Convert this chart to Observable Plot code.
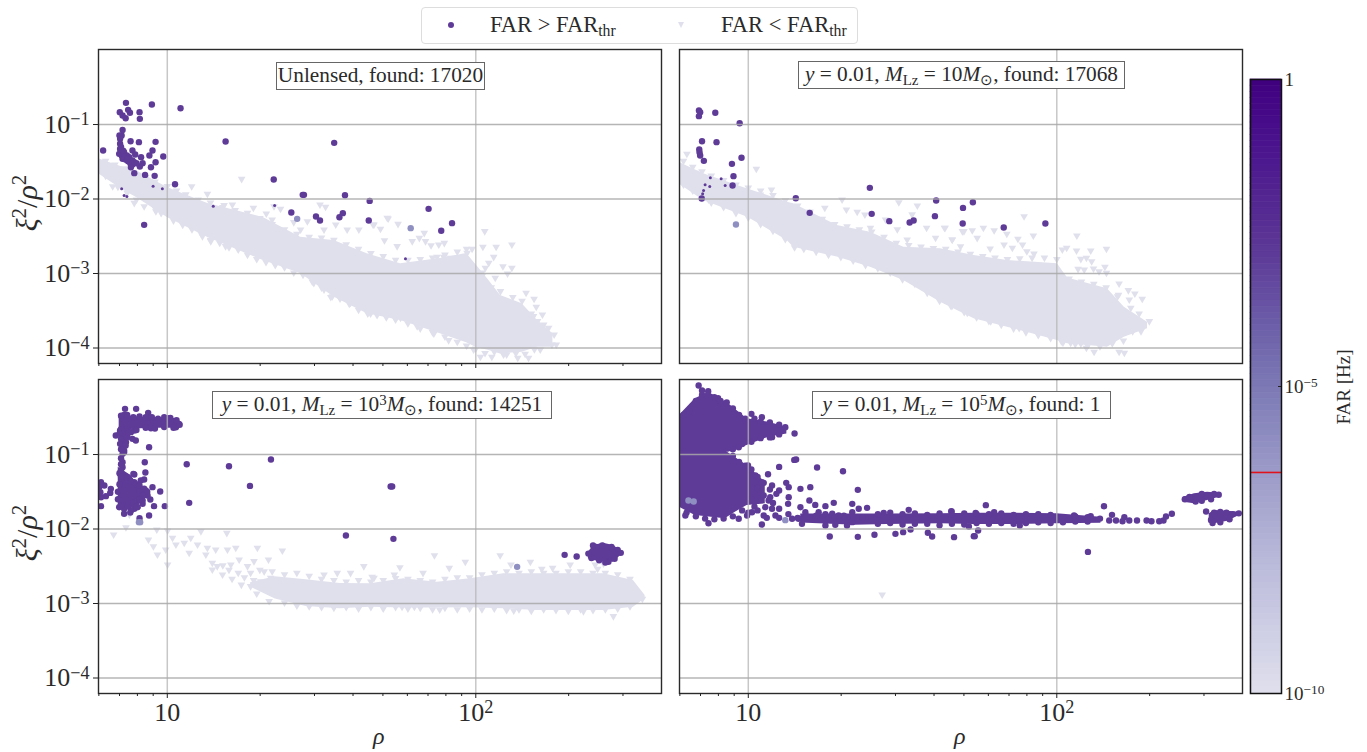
<!DOCTYPE html>
<html><head><meta charset="utf-8">
<script src="https://cdn.jsdelivr.net/npm/d3@7"></script>
<script src="https://cdn.jsdelivr.net/npm/@observablehq/plot@0.6"></script>
<style>
html,body{margin:0;padding:0;background:#fff}
#page{position:relative;width:1367px;height:752px;overflow:hidden;font-family:"Liberation Serif",serif;color:#2a2a2a}
#page svg{position:absolute;overflow:visible;background:transparent}
.note{position:absolute;height:26px;line-height:25px;background:#fff;border:1px solid #666;text-align:center;font-size:21.3px;white-space:nowrap;box-sizing:content-box}
.note sub,.leg sub{font-size:.7em;line-height:0;vertical-align:-.25em}
.note sup{font-size:.7em;line-height:0;vertical-align:.42em}
.t{position:absolute;white-space:nowrap}
.leg{position:absolute;font-size:22.5px;line-height:24px;white-space:nowrap}
</style></head><body><div id="page"></div>
<script>
// All data are [log10 rho, log10 (xi^2/rho^2)] read against the decade gridlines of the reference.
const rhoDomain=[10**0.777,10**2.602], xiDomain=[10**-4.208,10**0.007];
const xTicks=[10,100], xMinor=[6,7,8,9,20,30,40,50,60,70,80,90,200,300], yTicks=[1e-4,1e-3,1e-2,1e-1];
const farDomain=[1e-10,1], farTicks=[1e-10,1e-5,1], farThreshold=10**-6.4;
const farColors=["#dfdfed","#cfcfe5","#bcbcdc","#a9a8d0","#9291c3","#7b79b4","#6c5fa9","#5e3c99","#54278f","#491190","#3f007d"];
const purple="#5f3b98", pale="#e0e0ed", mid="#8f8fc2";

// Unlensed
const c1x=[.777,.859,.90,1.0,1.131,1.311,1.432,1.54,1.648,1.756,1.885,1.97,2.0,2.04,2.08,2.15,2.2,2.25];
const c1hi=[-1.46,-1.577,-1.62,-1.846,-2.06,-2.248,-2.512,-2.557,-2.736,-2.87,-2.80,-2.73,-2.88,-3.08,-3.295,-3.407,-3.63,-3.81];
const c1lo=[-1.66,-1.886,-1.98,-2.248,-2.517,-2.826,-3.0,-3.317,-3.54,-3.63,-3.81,-3.93,-3.989,-4.03,-4.08,-4.056,-3.989,-3.989];
const d1=[[.866,-.709],[.95,-.732],[1.043,-.781],[.846,-.834],[.873,-.803],[.879,-.843],[.91,-.834],[.855,-.879],[.865,-.915],[.911,-.924],[.855,-1.072],[.852,-1.148],[.845,-1.148],[.881,-1.224],[.908,-1.237],[.962,-1.233],[1.189,-1.228],[1.541,-1.246],[.792,-1.349],[.887,-1.349],[.952,-1.349],[.942,-1.416],[.987,-1.43],[.915,-1.438],[.896,-1.403],[.962,-1.506],[.92,-1.519],[.911,-1.564],[.947,-1.573],[.893,-1.653],[.928,-1.676],[.959,-1.689],[1.345,-1.738],[1.025,-1.801],[1.439,-1.944],[1.443,-1.944],[1.576,-1.949],[1.656,-2.025],[.925,-2.347],[1.402,-2.181],[1.482,-2.235],[1.495,-2.289],[1.558,-2.244],[1.569,-2.19],[1.653,-2.289],[1.847,-2.132],[1.923,-2.324],[1.888,-2.427],[.847,-1.192],[.847,-1.259],[.847,-1.327],[.844,-1.394],[.852,-1.416],[.858,-1.438],[.866,-1.474],[.873,-1.492],[.88,-1.519],[.887,-1.537],[.882,-1.573],[.86,-1.371],[.887,-1.483],[.893,-1.506],[.869,-1.416],[.855,-1.461],[.877,-1.438],[.85,-1.3],[.857,-1.35],[.865,-1.43],[.9,-1.52],[.872,-1.46]];
const s1=[[1.149,-2.096],[1.348,-2.087],[1.772,-2.803],[.852,-1.863],[.86,-1.953],[.869,-1.966],[.984,-1.863],[.954,-1.828]];
const m1=[[1.421,-2.266],[1.789,-2.391]];
const t1=[[1.241,-1.743],[1.079,-1.841],[1.13,-1.944],[1.184,-2.096],[1.211,-2.087],[1.279,-2.132],[1.321,-2.208],[1.346,-2.11],[1.367,-2.145],[1.34,-2.289],[1.41,-2.324],[1.454,-2.311],[1.495,-2.087],[1.513,-2.118],[1.546,-2.356],[1.583,-2.423],[1.621,-2.423],[1.67,-2.356],[1.713,-2.266],[1.432,-2.423],[1.508,-2.423],[.823,-1.841],[.925,-2.11],[.893,-2.065],[1.114,-2.512],[1.141,-2.579],[1.189,-2.646],[.963,-2.177],[1.0,-2.199],[1.691,-2.414],[1.716,-2.275],[1.748,-2.347],[1.667,-2.356],[1.704,-2.566],[1.745,-2.646],[1.794,-2.579],[1.817,-2.535],[1.833,-2.468],[1.837,-2.579],[1.855,-2.633],[1.88,-2.624],[1.898,-2.602],[2.029,-2.445],[2.117,-2.624],[2.066,-2.655],[2.023,-2.655],[1.988,-2.682],[2.088,-2.915],[2.117,-2.937],[2.103,-3.013],[2.058,-2.79],[2.063,-3.071],[2.004,-3.094],[2.163,-3.273],[2.189,-3.353],[2.196,-3.461],[2.216,-3.564],[2.2,-3.653],[2.187,-3.586],[2.236,-3.743],[2.254,-3.832],[2.261,-3.966],[2.247,-3.966],[2.209,-4.033],[2.171,-4.145],[2.136,-4.145],[2.09,-4.1],[2.052,-4.132],[2.015,-4.132],[1.993,-4.033],[1.912,-3.908],[1.864,-3.819],[1.81,-3.72],[1.756,-3.608],[1.659,-3.55],[1.594,-3.407],[1.535,-3.318],[1.508,-3.228],[1.475,-3.139],[1.918,-2.803],[1.896,-2.789],[1.874,-2.789],[2.02,-3.049],[1.972,-2.736],[2.031,-2.937],[2.042,-2.87],[1.993,-2.96]];
const e1=[[.80,-1.70],[.84,-1.85],[.87,-1.93],[.90,-2.02],[.93,-2.0],[.96,-2.13],[.98,-2.2],[1.02,-2.30],[1.05,-2.36],[1.08,-2.42],[1.11,-2.48],[1.14,-2.56],[1.17,-2.60],[1.2,-2.66],[1.23,-2.69],[1.26,-2.76],[1.29,-2.82],[1.32,-2.86],[1.35,-2.9],[1.38,-2.93],[1.41,-3.0],[1.44,-3.03],[1.47,-3.12],[1.5,-3.2],[1.53,-3.33],[1.56,-3.35],[1.59,-3.42],[1.62,-3.5],[1.65,-3.55],[1.68,-3.57],[1.71,-3.6],[1.74,-3.63],[1.78,-3.68],[1.82,-3.75],[1.86,-3.8],[1.9,-3.86],[1.94,-3.93],[1.97,-3.98],[2.0,-4.02],[2.03,-4.08],[2.06,-4.06],[2.1,-4.1],[2.13,-4.08],[2.16,-4.09],[2.19,-4.03],[.80,-1.5],[.83,-1.55],[.86,-1.6],[.89,-1.66],[.93,-1.72],[.96,-1.78],[1.0,-1.84],[1.03,-1.9],[1.06,-1.95],[1.1,-2.02],[1.14,-2.06],[1.18,-2.12],[1.22,-2.16],[1.26,-2.2],[1.3,-2.27],[1.34,-2.35],[1.38,-2.42],[1.42,-2.48],[1.46,-2.52],[1.5,-2.53],[1.54,-2.56],[1.58,-2.62],[1.62,-2.68],[1.66,-2.74],[1.7,-2.78],[1.74,-2.83],[1.78,-2.83],[1.82,-2.82],[1.86,-2.8],[1.9,-2.76],[1.94,-2.72],[1.97,-2.68],[2.02,-3.0],[2.05,-3.2],[2.08,-3.25],[2.12,-3.33],[2.15,-3.38],[2.18,-3.55],[2.22,-3.7]];

// M_Lz = 10
const c2x=[.775,.855,.998,1.126,1.147,1.288,1.396,1.504,1.623,1.732,1.84,2.002,2.035,2.164,2.219,2.294];
const c2hi=[-1.506,-1.662,-1.864,-2.042,-2.065,-2.356,-2.445,-2.647,-2.669,-2.758,-2.825,-2.87,-3.06,-3.206,-3.452,-3.653];
const c2lo=[-1.796,-2.02,-2.244,-2.557,-2.647,-2.78,-2.915,-3.094,-3.385,-3.608,-3.72,-3.899,-3.944,-3.989,-3.854,-3.742];
const d2=[[.84,-.812],[.844,-.834],[.84,-.888],[.893,-.843],[.972,-.982],[.85,-1.224],[.897,-1.237],[.841,-1.336],[.842,-1.376],[.844,-1.416],[.856,-1.488],[.978,-1.447],[.947,-1.528],[.952,-1.693],[.949,-1.819],[.849,-1.993],[1.154,-1.989],[1.394,-1.85],[1.4,-2.199],[1.199,-2.186],[1.457,-2.297],[1.523,-2.315],[1.536,-2.289],[1.605,-2.23],[1.609,-2.02],[1.696,-2.119],[1.695,-2.329],[1.728,-2.043],[1.828,-2.383],[1.963,-2.329]];
const s2=[[.877,-1.716],[.86,-1.81],[.855,-1.886],[.875,-1.832],[.912,-1.729],[.852,-1.93],[.925,-1.819]];
const m2=[[.96,-2.342]];
const t2=[[.801,-1.407],[1.026,-1.608],[1.075,-1.886],[1.039,-1.953],[1.304,-2.02],[1.248,-2.132],[1.318,-2.154],[1.353,-2.185],[1.378,-2.221],[1.396,-2.4],[1.445,-2.288],[1.488,-2.056],[1.548,-2.1],[1.531,-2.22],[1.483,-2.42],[1.515,-2.557],[1.578,-2.4],[1.607,-2.534],[1.661,-2.557],[1.636,-2.4],[1.699,-2.445],[.828,-1.662],[.902,-2.02],[.871,-2.02],[1.894,-2.244],[1.638,-2.4],[1.694,-2.445],[1.726,-2.432],[1.762,-2.4],[1.797,-2.432],[1.838,-2.481],[1.924,-2.503],[1.661,-2.557],[1.742,-2.535],[1.874,-2.548],[1.688,-2.647],[1.784,-2.678],[1.829,-2.624],[1.856,-2.669],[1.889,-2.624],[1.903,-2.714],[1.926,-2.745],[2.065,-2.503],[2.018,-2.691],[2.032,-2.669],[2.064,-2.705],[2.11,-2.705],[2.161,-2.682],[2.078,-2.817],[2.096,-2.803],[2.113,-2.848],[2.156,-2.924],[2.119,-2.946],[2.089,-2.96],[2.069,-2.951],[2.137,-2.982],[2.161,-3.004],[2.037,-3.148],[2.202,-3.148],[2.232,-3.237],[2.253,-3.282],[2.277,-3.353],[2.235,-3.362],[2.197,-3.318],[2.267,-3.55],[2.24,-3.474],[2.3,-3.653],[2.273,-3.787],[2.246,-3.787],[2.216,-3.913],[2.202,-4.065],[2.219,-4.078],[2.121,-4.065],[2.096,-4.011],[2.078,-3.953],[2.045,-3.944],[2.015,-3.921],[1.959,-3.787],[1.878,-3.743],[1.786,-3.653],[1.71,-3.541],[1.656,-3.443]];
const e2=[[.79,-1.82],[.82,-1.9],[.85,-2.0],[.88,-2.06],[.92,-2.12],[.96,-2.2],[1.0,-2.26],[1.04,-2.35],[1.08,-2.44],[1.12,-2.55],[1.15,-2.66],[1.18,-2.68],[1.22,-2.72],[1.26,-2.76],[1.3,-2.79],[1.34,-2.84],[1.38,-2.9],[1.42,-2.94],[1.46,-3.0],[1.5,-3.09],[1.54,-3.15],[1.58,-3.27],[1.62,-3.38],[1.66,-3.45],[1.7,-3.53],[1.74,-3.6],[1.78,-3.65],[1.82,-3.7],[1.86,-3.75],[1.9,-3.8],[1.94,-3.84],[1.98,-3.88],[2.02,-3.94],[2.06,-3.96],[2.1,-3.98],[2.14,-3.99],[2.18,-3.95],[.79,-1.5],[.82,-1.58],[.85,-1.64],[.88,-1.7],[.92,-1.76],[.96,-1.82],[1.0,-1.86],[1.04,-1.9],[1.08,-1.96],[1.12,-2.03],[1.16,-2.1],[1.2,-2.18],[1.24,-2.28],[1.28,-2.35],[1.32,-2.38],[1.36,-2.42],[1.4,-2.45],[1.44,-2.52],[1.48,-2.6],[1.52,-2.63],[1.56,-2.65],[1.6,-2.67],[1.64,-2.68],[1.68,-2.72],[1.72,-2.75],[1.76,-2.78],[1.8,-2.8],[1.84,-2.82],[1.88,-2.81],[1.92,-2.8],[1.96,-2.8],[2.0,-2.82],[2.04,-3.08],[2.08,-3.12],[2.12,-3.15],[2.16,-3.2],[2.2,-3.3]];

// M_Lz = 10^3
const c3x=[1.27,1.35,1.45,1.56,1.6586,1.7665,1.8744,1.9823,2.0902,2.1981,2.306,2.4139,2.511,2.549];
const c3hi=[-2.72,-2.64,-2.68,-2.73,-2.736,-2.669,-2.714,-2.669,-2.602,-2.602,-2.602,-2.602,-2.691,-2.893];
const c3lo=[-2.78,-2.94,-3.04,-3.07,-3.05,-3.06,-3.06,-3.058,-3.072,-3.094,-3.094,-3.094,-3.049,-2.937];
const barX=[.844,.914,.968,1.038], barHi=[-.467,-.499,-.508,-.521], barLo=[-.678,-.655,-.647,-.647];
const low3x=[.841,.882,.914,.936], low3hi=[-1.17,-1.282,-1.461,-1.483], low3lo=[-1.684,-1.729,-1.662,-1.55];
const blob3x=[2.365,2.382,2.414,2.446,2.47], blob3hi=[-2.311,-2.221,-2.19,-2.221,-2.289], blob3lo=[-2.4,-2.423,-2.445,-2.445,-2.356];
const d3pts=[[.863,-.387],[.899,-.387],[.938,-.441],[.941,-.902],[.927,-1.103],[.929,-1.242],[1.063,-1.13],[1.2,-1.157],[1.336,-1.067],[1.268,-1.421],[1.071,-1.649],[1.579,-2.087],[1.724,-1.429],[.977,-1.497],[.952,-1.438],[.945,-1.604],[.957,-1.693],[.992,-1.693],[.941,-1.819],[.91,-1.855],[.893,-1.729],[.86,-1.796],[.925,-1.336],[.893,-1.268],[.92,-1.662],[.785,-1.371],[.796,-1.416],[.817,-1.461],[.815,-1.515],[.801,-1.559],[.785,-1.573],[.785,-1.693],[.779,-1.438],[.783,-1.505],[.855,-.723],[.852,-.79],[.86,-.834],[.855,-.902],[.866,-.834],[.871,-.767],[.887,-.79],[.898,-.812],[.833,-.745],[.855,-.991],[.855,-1.103],[.855,-1.17],[.882,-.7],[.847,-.678],[.866,-.7],[.847,-.857],[.86,-.946],[.85,-1.215],[.89,-1.26],[.914,-1.349],[.893,-1.371],[.93,-1.483],[.909,-1.483],[.844,-1.707],[.86,-1.729],[.882,-1.752],[.904,-1.707],[.92,-1.617],[.936,-1.55],[.86,-.468],[.936,-.499],[1.001,-.512],[1.038,-.588],[1.028,-.633],[.947,-.647],[.893,-.678],[2.288,-2.347],[2.327,-2.369],[1.729,-1.43],[1.733,-2.132],[.85,-.48],[.87,-.47],[.89,-.5],[.91,-.49],[.93,-.5],[.95,-.5],[.97,-.52],[.99,-.5],[1.01,-.51],[1.03,-.54],[1.04,-.6],[1.02,-.64],[.99,-.63],[.96,-.65],[.93,-.64],[.9,-.67],[.87,-.66],[.85,-.66],[.845,-.72],[.86,-.76],[.875,-.7],[.85,-.79],[.865,-.88],[.85,-.93],[.86,-.97],[.85,-1.05],[.85,-1.13],[.845,-1.25],[.85,-1.3],[.845,-1.4],[.87,-1.3],[.88,-1.35],[.9,-1.4],[.91,-1.42],[.925,-1.46],[.935,-1.5],[.92,-1.55],[.91,-1.6],[.89,-1.65],[.87,-1.7],[.85,-1.68],[.84,-1.6],[.84,-1.5],[.9,-1.7],[.88,-1.78],[2.365,-2.33],[2.375,-2.39],[2.39,-2.24],[2.38,-2.22],[2.41,-2.22],[2.44,-2.24],[2.46,-2.28],[2.47,-2.32],[2.45,-2.4],[2.43,-2.44],[2.4,-2.42],[2.42,-2.45]];
const m3=[[.908,-1.908],[.912,-1.908],[2.134,-2.508]];
const t3=[[.826,-2.087],[.866,-1.989],[.939,-2.154],[.966,-2.02],[1.001,-2.033],[.955,-2.244],[.968,-2.356],[.995,-2.288],[1.017,-2.132],[1.028,-2.221],[1.055,-2.199],[1.076,-2.132],[1.109,-2.042],[1.098,-2.221],[1.071,-2.333],[1.13,-2.266],[1.125,-2.355],[1.157,-2.288],[1.193,-2.065],[1.195,-2.288],[1.222,-2.266],[1.292,-2.266],[1.373,-2.302],[1.328,-2.423],[1.637,-2.512],[1.001,-2.49],[1.146,-2.467],[1.179,-2.624],[1.206,-2.49],[1.233,-2.423],[1.27,-2.78],[1.351,-2.848],[1.146,-2.557],[1.162,-2.512],[1.26,-2.512],[1.281,-2.445],[1.314,-2.58],[1.303,-2.714],[1.335,-2.669],[1.508,-2.624],[1.551,-2.602],[1.594,-2.602],[1.67,-2.669],[1.421,-2.915],[1.486,-2.96],[1.866,-2.365],[1.966,-2.454],[2.079,-2.365],[1.754,-2.526],[1.914,-2.535],[2.177,-2.454],[2.114,-2.49],[2.306,-2.49],[2.214,-2.548],[2.249,-2.535],[2.395,-2.548],[2.387,-2.49],[2.414,-2.476],[1.829,-2.602],[1.736,-2.624],[1.664,-2.655],[2.446,-3.183],[1.761,-3.058],[1.801,-3.058],[1.883,-3.094],[2.123,-3.107],[2.349,-3.116],[.877,-1.819],[1.23,-2.6],[1.21,-2.68],[1.25,-2.66],[1.24,-2.76],[1.28,-2.7],[1.2,-2.56],[1.18,-2.5],[1.27,-2.6],[1.29,-2.88]];
const e3=[[1.3,-2.56],[1.34,-2.58],[1.38,-2.62],[1.42,-2.6],[1.46,-2.64],[1.5,-2.68],[1.54,-2.7],[1.58,-2.72],[1.62,-2.7],[1.66,-2.72],[1.7,-2.7],[1.74,-2.67],[1.78,-2.68],[1.82,-2.7],[1.86,-2.72],[1.9,-2.68],[1.94,-2.66],[1.98,-2.66],[2.02,-2.62],[2.06,-2.6],[2.1,-2.58],[2.14,-2.6],[2.18,-2.58],[2.22,-2.6],[2.26,-2.6],[2.3,-2.58],[2.34,-2.58],[2.38,-2.6],[2.42,-2.6],[2.46,-2.62],[2.5,-2.68],[1.33,-2.98],[1.38,-3.0],[1.42,-3.04],[1.46,-3.05],[1.5,-3.06],[1.54,-3.07],[1.58,-3.06],[1.62,-3.08],[1.66,-3.06],[1.7,-3.08],[1.74,-3.06],[1.78,-3.08],[1.82,-3.07],[1.86,-3.09],[1.9,-3.07],[1.94,-3.09],[1.98,-3.08],[2.02,-3.09],[2.06,-3.08],[2.1,-3.1],[2.14,-3.09],[2.18,-3.11],[2.22,-3.09],[2.26,-3.1],[2.3,-3.11],[2.34,-3.09],[2.38,-3.1],[2.42,-3.09],[2.46,-3.08],[2.5,-3.05],[2.54,-2.95]];

// M_Lz = 10^5
const up4x=[.776,.828,.871,.936,.996,1.066,1.125], up4hi=[-.477,-.253,-.163,-.32,-.521,-.566,-.633], up4lo=[-.97,-.97,-.97,-.969,-.879,-.767,-.723];
const low4x=[.776,.828,.925,.958,.996,1.055], low4hi=[-.95,-.95,-.95,-1.04,-1.148,-1.371], low4lo=[-1.707,-1.819,-1.863,-1.774,-1.684,-1.662];
const tail4x=[1.17,1.347,1.45,1.623,1.732,1.84,2.0,2.143], tail4hi=[-1.80,-1.80,-1.80,-1.796,-1.788,-1.788,-1.796,-1.841], tail4lo=[-1.92,-1.95,-1.94,-1.931,-1.94,-1.94,-1.931,-1.922];
const ur4x=[2.411,2.446,2.489,2.527], ur4hi=[-1.573,-1.528,-1.506,-1.519], ur4lo=[-1.64,-1.662,-1.617,-1.573];
const lr4x=[2.494,2.511,2.554,2.592], lr4hi=[-1.796,-1.752,-1.761,-1.774], lr4lo=[-1.922,-1.931,-1.895,-1.819];
const d4=[[.839,-.074],[.902,-.244],[1.15,-.718],[1.01,-.454],[1.044,-.5],[1.12,-.633],[1.077,-.767],[.969,-.902],[1.155,-1.067],[1.149,-1.072],[1.1,-1.166],[1.223,-1.174],[1.307,-1.224],[1.064,-1.264],[1.123,-1.38],[1.131,-1.438],[1.169,-1.461],[1.201,-1.438],[1.355,-1.474],[1.1,-1.483],[1.091,-1.528],[1.131,-1.573],[1.071,-1.573],[1.198,-1.617],[1.217,-1.676],[1.129,-1.662],[1.277,-1.649],[1.169,-1.707],[1.25,-1.693],[1.337,-1.662],[1.385,-1.716],[1.358,-1.729],[1.066,-1.617],[1.055,-1.707],[1.1,-1.729],[1.088,-1.819],[1.044,-1.94],[.969,-1.863],[.871,-1.922],[.796,-1.819],[1.174,-1.931],[1.25,-1.953],[1.282,-1.944],[1.32,-1.953],[1.264,-2.1],[1.355,-2.105],[1.409,-2.078],[1.477,-2.065],[1.502,-2.042],[1.526,-2.007],[1.582,-2.051],[1.596,-2.1],[1.667,-2.109],[1.731,-2.096],[1.52,-1.743],[1.659,-1.765],[1.439,-1.783],[1.337,-1.774],[1.272,-1.796],[1.228,-1.774],[1.185,-1.774],[1.163,-1.863],[1.142,-1.863],[1.217,-1.863],[1.255,-1.863],[1.293,-1.819],[1.315,-1.886],[1.337,-1.908],[1.05,-1.819],[1.077,-1.729],[1.023,-1.55],[1.012,-1.774],[.996,-1.819],[1.023,-1.282],[.999,-1.148],[1.044,-1.371],[1.077,-1.416],[1.734,-2.096],[1.745,-2.02],[1.77,-1.68],[1.658,-1.761],[1.737,-1.783],[1.797,-1.774],[1.88,-1.953],[1.715,-1.966],[2.153,-1.694],[2.179,-1.81],[2.101,-2.307],[2.056,-1.819],[2.11,-1.828],[2.17,-1.886],[2.192,-1.886],[2.219,-1.841],[2.235,-1.886],[2.213,-1.895],[2.26,-1.886],[2.291,-1.886],[2.307,-1.895],[2.332,-1.895],[2.346,-1.886],[2.354,-1.832],[2.373,-1.796],[2.484,-1.765]];
const e4=[[.79,-.47],[.81,-.42],[.83,-.28],[.85,-.2],[.87,-.15],[.89,-.23],[.91,-.28],[.93,-.3],[.95,-.38],[.97,-.47],[.99,-.52],[1.02,-.52],[1.04,-.56],[1.07,-.57],[1.1,-.6],[.85,-.14],[1.1,-.73],[1.07,-.77],[1.04,-.78],[1.01,-.83],[.98,-.86],[.95,-.93],[.95,-1.02],[.97,-1.1],[.99,-1.15],[1.01,-1.2],[1.03,-1.3],[1.05,-1.38],[1.07,-1.47],[1.03,-1.45],[1.01,-1.6],[1.05,-1.55],[1.08,-1.65],[1.02,-1.7],[.98,-1.75],[.95,-1.83],[.92,-1.86],[.89,-1.87],[.86,-1.86],[.83,-1.83],[.8,-1.78],[1.0,-1.78],[1.03,-1.75],[1.06,-1.85],[1.1,-1.85],[1.13,-1.8],[1.16,-1.85],[1.19,-1.83],[1.22,-1.82],[1.25,-1.8],[1.28,-1.84],[1.31,-1.82],[1.34,-1.84],[1.37,-1.85],[1.4,-1.86],[1.42,-1.8],[1.46,-1.78],[1.5,-1.8],[1.54,-1.79],[1.58,-1.81],[1.62,-1.79],[1.66,-1.81],[1.7,-1.79],[1.74,-1.8],[1.78,-1.8],[1.82,-1.79],[1.86,-1.81],[1.9,-1.8],[1.94,-1.8],[1.98,-1.81],[2.02,-1.84],[2.06,-1.83],[2.1,-1.84],[2.14,-1.86],[1.42,-1.93],[1.46,-1.92],[1.5,-1.94],[1.54,-1.93],[1.58,-1.93],[1.62,-1.95],[1.66,-1.93],[1.7,-1.94],[1.74,-1.92],[1.78,-1.93],[1.82,-1.92],[1.86,-1.93],[1.9,-1.92],[1.94,-1.91],[1.98,-1.92],[2.02,-1.91],[2.06,-1.9],[2.1,-1.9],[2.415,-1.6],[2.43,-1.57],[2.45,-1.63],[2.47,-1.53],[2.49,-1.55],[2.51,-1.53],[2.525,-1.54],[2.5,-1.6],[2.47,-1.62],[2.5,-1.88],[2.51,-1.78],[2.53,-1.77],[2.55,-1.78],[2.57,-1.8],[2.59,-1.79],[2.56,-1.87],[2.53,-1.91],[2.505,-1.92]];
const m4=[[1.12,-1.881],[.806,-1.617],[.823,-1.631]];
const t4=[[1.434,-2.892]];

const pts=a=>a.map(([r,x])=>({rho:10**r,xi:10**x}));
const band=(x,hi,lo)=>x.map((r,i)=>({rho:10**r,hi:10**hi[i],lo:10**lo[i]}));
const triDown={draw(c,size){const r=Math.sqrt(size/Math.PI);c.moveTo(-1.2*r,-.95*r);c.lineTo(1.2*r,-.95*r);c.lineTo(0,1.1*r);c.closePath();}};
const page=document.getElementById("page");
const sup=()=>function(){const s=this.textContent;if(!s.includes("^"))return;const [b,e]=s.split("^");this.textContent=b;
    d3.select(this).append("tspan").attr("dy","-0.42em").attr("font-size","0.7em").text(e);};
const fmt=d=>{const e=Math.round(Math.log10(d));return e===1?"10":"10^"+String(e).replace("-","\u2212");};

function panel({left,top,showY,showX,tickBottom,clouds,purples,dots,small,mids,tris}){
  const ml=showY?98:1, mb=showX?50:8;
  const area=(rows,fill)=>Plot.areaY(rows,{x:"rho",y1:"lo",y2:"hi",fill,clip:true});
  const marks=[
    ...clouds.map(c=>area(c,pale)),
    Plot.dot(pts(tris),{x:"rho",y:"xi",r:3.2,symbol:triDown,fill:pale,clip:true}),
    ...purples.map(c=>area(c,purple)),
    Plot.dot(pts(dots),{x:"rho",y:"xi",r:3.2,fill:purple,clip:true}),
    Plot.dot(pts(small),{x:"rho",y:"xi",r:1.5,fill:purple,clip:true}),
    Plot.dot(pts(mids),{x:"rho",y:"xi",r:3.2,fill:mid,clip:true}),
    Plot.gridX({ticks:xTicks,stroke:"#b4b4b4",strokeOpacity:.75,strokeWidth:1.5}),
    Plot.gridY({ticks:yTicks,stroke:"#a8a8a8",strokeOpacity:.85,strokeWidth:1.3}),
    Plot.frame({stroke:"#2a2a2a",strokeWidth:1.4})
  ];
  if(showY)marks.push(Plot.axisY({ticks:yTicks,tickFormat:fmt,tickSize:5,tickPadding:4,fontSize:26,label:null,stroke:"#222"}));
  if(tickBottom||showX)marks.push(Plot.axisX({ticks:xTicks,tickFormat:showX?fmt:()=>"",tickSize:5,tickPadding:4,fontSize:26,label:null,stroke:"#222"}),
    Plot.axisX({ticks:xMinor,tickFormat:()=>"",tickSize:3,label:null,stroke:"#222"}));
  const w=ml+563+1, svg=Plot.plot({width:w,height:1+314+mb,marginLeft:ml,marginRight:1,marginTop:1,marginBottom:mb,
    x:{type:"log",domain:rhoDomain,axis:null},y:{type:"log",domain:xiDomain,axis:null},
    style:{fontFamily:'"Liberation Serif",serif',color:"#2a2a2a",background:"transparent",overflow:"visible"},marks});
  d3.select(svg).selectAll("text").each(sup());
  svg.style.left=(left-ml)+"px";svg.style.top=(top-1)+"px";page.appendChild(svg);
}
panel({left:98,top:49,showY:true,showX:false,tickBottom:true,clouds:[band(c1x,c1hi,c1lo)],purples:[],dots:d1,small:s1,mids:m1,tris:t1.concat(e1)});
panel({left:679,top:49,showY:false,showX:false,tickBottom:false,clouds:[band(c2x,c2hi,c2lo)],purples:[],dots:d2,small:s2,mids:m2,tris:t2.concat(e2)});
panel({left:98,top:379,showY:true,showX:true,clouds:[band(c3x,c3hi,c3lo)],purples:[band(barX,barHi,barLo),band(low3x,low3hi,low3lo),band(blob3x,blob3hi,blob3lo)],dots:d3pts,small:[],mids:m3,tris:t3.concat(e3)});
panel({left:679,top:379,showY:false,showX:true,clouds:[],purples:[band(up4x,up4hi,up4lo),band(low4x,low4hi,low4lo),band(tail4x,tail4hi,tail4lo),band(ur4x,ur4hi,ur4lo),band(lr4x,lr4hi,lr4lo)],dots:d4.concat(e4),small:[],mids:m4,tris:t4});

// colour bar: a ramp of FAR steps coloured by the log colour scale
const steps=d3.range(-10,0,0.1).map(e=>({a:10**e,b:10**(e+0.1),mid:10**(e+0.05)}));
const ramp=d3.interpolateRgbBasis(farColors);
const cbar=Plot.plot({width:33,height:616,marginLeft:1,marginRight:1,marginTop:1,marginBottom:1,
  x:{axis:null,domain:[0,1]},y:{type:"log",domain:farDomain,axis:null},
  color:{type:"log",domain:farDomain,range:[0,1],interpolate:()=>ramp},
  style:{overflow:"visible",background:"transparent",fontFamily:'"Liberation Serif",serif'},
  marks:[
    Plot.rect(steps,{x1:()=>0,x2:()=>1,y1:"a",y2:"b",fill:"mid",stroke:"mid",strokeWidth:.6}),
    Plot.ruleY([farThreshold],{stroke:"#e0121c",strokeWidth:1.6}),
    Plot.axisY({ticks:farTicks,anchor:"right",tickSize:-4,tickPadding:7,fontSize:19,label:null,stroke:"#222",
      tickFormat:d=>d===1?"1":"10^\u2212"+Math.round(-Math.log10(d))}),
    Plot.frame({stroke:"#111",strokeWidth:1.5})
  ]});
d3.select(cbar).selectAll("text").each(sup());
cbar.style.left="1249px";cbar.style.top="78px";page.appendChild(cbar);

// annotations and labels
const add=(cls,css,html)=>{const e=document.createElement("div");e.className=cls;e.style.cssText=css;e.innerHTML=html;page.appendChild(e);return e;};
const M='<i>M</i><sub>Lz</sub>';
add("note","left:276px;top:62px;width:207px","Unlensed, found: 17020");
add("note","left:798px;top:61px;width:325px",`<i>y</i> = 0.01, ${M} = 10<i>M</i><sub>⊙</sub>, found: 17068`);
add("note","left:212px;top:391px;width:338px",`<i>y</i> = 0.01, ${M} = 10<sup>3</sup><i>M</i><sub>⊙</sub>, found: 14251`);
add("note","left:812px;top:391px;width:297px",`<i>y</i> = 0.01, ${M} = 10<sup>5</sup><i>M</i><sub>⊙</sub>, found: 1`);
const rho='<i>ρ</i>', ylab=`<i>ξ</i><sup style="font-size:.7em;line-height:0">2</sup>/<i>ρ</i><sup style="font-size:.7em;line-height:0">2</sup>`;
add("t","left:373px;top:725px;font-size:24px;line-height:22px",rho);
add("t","left:954px;top:725px;font-size:24px;line-height:22px",rho);
add("t","left:27px;top:203px;font-size:30px;transform:translate(-50%,-50%) rotate(-90deg)",ylab);
add("t","left:27px;top:533px;font-size:30px;transform:translate(-50%,-50%) rotate(-90deg)",ylab);
add("t","left:1344px;top:387px;font-size:19px;transform:translate(-50%,-50%) rotate(-90deg)","FAR [Hz]");
// legend
add("t","left:421px;top:7px;width:435px;height:35px;border:1px solid #ddd;border-radius:4px","");
add("t",`left:448px;top:22px;width:6px;height:6px;border-radius:50%;background:${purple}`,"");
add("t","left:678px;top:22px;width:0;height:0;border-left:3.5px solid transparent;border-right:3.5px solid transparent;border-top:6px solid "+pale,"");
add("leg","left:490px;top:13px","FAR &gt; FAR<sub>thr</sub>");
add("leg","left:721px;top:13px","FAR &lt; FAR<sub>thr</sub>");
</script></body></html>
